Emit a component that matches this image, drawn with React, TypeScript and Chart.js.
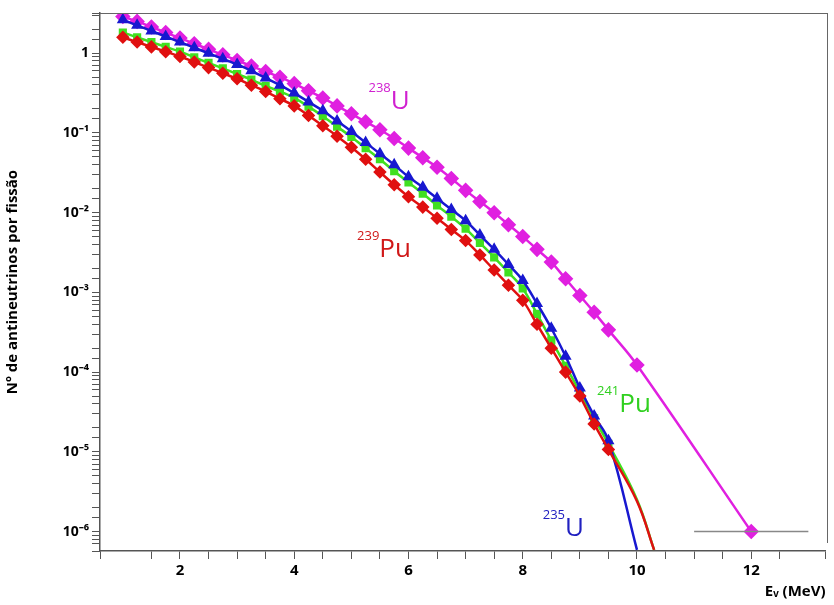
import { useEffect, useRef } from "react";
import { Chart, registerables } from "chart.js";

Chart.register(...registerables);

// energies (MeV) for the measured points
const energies = [1, 1.25, 1.5, 1.75, 2, 2.25, 2.5, 2.75, 3, 3.25, 3.5, 3.75, 4, 4.25, 4.5, 4.75, 5, 5.25, 5.5, 5.75, 6, 6.25, 6.5, 6.75, 7, 7.25, 7.5, 7.75, 8, 8.25, 8.5, 8.75, 9, 9.25, 9.5];

// log10 of antineutrinos per fission
const u238Log = [0.46, 0.4, 0.33, 0.26, 0.19, 0.12, 0.05, -0.02, -0.09, -0.16, -0.23, -0.3, -0.38, -0.47, -0.56, -0.66, -0.76, -0.86, -0.96, -1.07, -1.19, -1.31, -1.43, -1.57, -1.72, -1.86, -2.0, -2.15, -2.3, -2.46, -2.62, -2.83, -3.04, -3.25, -3.47];
const u238TailE = [10, 12];
const u238TailLog = [-3.91, -6.0];

const u235Log = [0.42, 0.35, 0.28, 0.21, 0.14, 0.07, 0, -0.07, -0.14, -0.22, -0.31, -0.4, -0.5, -0.61, -0.72, -0.85, -0.98, -1.12, -1.26, -1.4, -1.55, -1.68, -1.82, -1.96, -2.1, -2.28, -2.46, -2.65, -2.85, -3.14, -3.45, -3.8, -4.2, -4.55, -4.86];
const u235EndE = [10];
const u235EndLog = [-6.23];

const pu241Log = [0.26, 0.2, 0.14, 0.08, 0.02, -0.05, -0.12, -0.19, -0.26, -0.33, -0.41, -0.48, -0.56, -0.67, -0.79, -0.92, -1.05, -1.19, -1.33, -1.48, -1.62, -1.76, -1.91, -2.05, -2.2, -2.38, -2.56, -2.75, -2.95, -3.27, -3.6, -3.92, -4.25, -4.58, -4.9];
const pu241EndE = [10, 10.3];
const pu241EndLog = [-5.6, -6.23];

const pu239Log = [0.2, 0.14, 0.08, 0.02, -0.04, -0.11, -0.18, -0.25, -0.32, -0.4, -0.48, -0.57, -0.66, -0.78, -0.91, -1.04, -1.18, -1.33, -1.49, -1.65, -1.8, -1.93, -2.07, -2.21, -2.35, -2.53, -2.72, -2.91, -3.1, -3.4, -3.7, -4.0, -4.3, -4.65, -4.97];
const pu239EndE = [10, 10.3];
const pu239EndLog = [-5.62, -6.23];

const decadeLabels: Record<string, string> = {
  "1": "1", "0.1": "10⁻¹", "0.01": "10⁻²", "0.001": "10⁻³", "0.0001": "10⁻⁴", "0.00001": "10⁻⁵", "0.000001": "10⁻⁶",
};

const isoLabels = [
  { mass: "238", sym: "U", x: 5.3, y: -0.6, color: "#d020d0" },
  { mass: "239", sym: "Pu", x: 5.1, y: -2.45, color: "#d01818" },
  { mass: "241", sym: "Pu", x: 9.3, y: -4.4, color: "#30d020" },
  { mass: "235", sym: "U", x: 8.35, y: -5.95, color: "#2020c0" },
];

const pts = (xs: number[], ls: number[]) => xs.map((x, i) => ({ x, y: Math.pow(10, ls[i]) }));

const labelPlugin = {
  id: "isoLabels",
  afterDatasetsDraw(chart: any) {
    const { ctx, scales } = chart;
    ctx.save();
    ctx.textBaseline = "alphabetic";
    for (const l of isoLabels) {
      const px = scales.x.getPixelForValue(l.x);
      const py = scales.y.getPixelForValue(Math.pow(10, l.y));
      ctx.fillStyle = l.color;
      ctx.font = "13px 'Open Sans', sans-serif";
      ctx.fillText(l.mass, px, py - 9);
      const w = ctx.measureText(l.mass).width;
      ctx.font = "26px 'Open Sans', sans-serif";
      ctx.fillText(l.sym, px + w, py + 8);
    }
    // horizontal error bar of last 238U point
    ctx.strokeStyle = "#888";
    ctx.lineWidth = 1.5;
    const y12 = scales.y.getPixelForValue(1e-6);
    ctx.beginPath();
    ctx.moveTo(scales.x.getPixelForValue(11), y12);
    ctx.lineTo(scales.x.getPixelForValue(13), y12);
    ctx.stroke();
    ctx.restore();
  },
};

export default function App() {
  const canvasRef = useRef<HTMLCanvasElement>(null);

  useEffect(() => {
    if (!canvasRef.current) return;
    const mk = (label: string, color: string, style: string, main: { x: number; y: number }[], tail: { x: number; y: number }[], r = 5) => ({
      label,
      data: [...main, ...tail],
      borderColor: color,
      backgroundColor: color,
      borderWidth: 2.5,
      pointStyle: style,
      pointRadius: main.map(() => r).concat(tail.map(() => 0)),
      tension: 0.4,
    });
    const u238 = mk("238U", "#e020e0", "rectRot", pts(energies, u238Log), pts(u238TailE, u238TailLog), 6);
    (u238 as any).pointRadius = 6;

    const chart = new Chart(canvasRef.current, {
      type: "line",
      data: {
        datasets: [
          mk("239Pu", "#e01010", "rectRot", pts(energies, pu239Log), pts(pu239EndE, pu239EndLog)),
          mk("235U", "#1818d0", "triangle", pts(energies, u235Log), pts(u235EndE, u235EndLog), 4.5),
          mk("241Pu", "#40e020", "rect", pts(energies, pu241Log), pts(pu241EndE, pu241EndLog), 4),
          u238 as any,
        ],
      },
      options: {
        animation: false,
        responsive: false,
        layout: { padding: { top: 13, right: 6, bottom: 0, left: 0 } },
        plugins: { legend: { display: false }, tooltip: { enabled: false } },
        scales: {
          x: {
            type: "linear",
            min: 0.6,
            max: 13.3,
            ticks: {
              stepSize: 0.5,
              autoSkip: false,
              color: "#000",
              font: { size: 15, weight: "bold", family: "'Open Sans', sans-serif" },
              callback: (v: any) => (Number(v) % 2 === 0 ? String(v) : ""),
            },
            grid: { drawOnChartArea: false, color: "#555", tickLength: 8 },
            border: { color: "#555", width: 1.5 },
            title: {
              display: true,
              text: "Eᵥ (MeV)",
              align: "end",
              color: "#000",
              font: { size: 15, weight: "bold", family: "'Open Sans', sans-serif" },
              padding: { top: 0, bottom: 4 },
            },
          },
          y: {
            type: "logarithmic",
            min: 5.7e-7,
            max: 3.2,
            afterFit: (s: any) => { s.width = 100; },
            ticks: {
              autoSkip: false,
              color: "#000",
              font: { size: 14, weight: "bold", family: "'Open Sans', sans-serif" },
              callback: (v: any) => decadeLabels[String(v)] ?? "",
            },
            grid: { drawOnChartArea: false, color: "#555", tickLength: 8 },
            border: { color: "#555", width: 1.5 },
            title: {
              display: true,
              text: "Nº de antineutrinos por fissão",
              color: "#000",
              font: { size: 15, weight: "bold", family: "'Open Sans', sans-serif" },
            },
          },
        },
      },
      plugins: [labelPlugin],
    });
    return () => chart.destroy();
  }, []);

  return (
    <div style={{ position: "absolute", left: 0, top: 0, width: 834, height: 605, background: "#fff" }}>
      <div style={{ position: "absolute", left: 100, top: 13, width: 728, height: 530, borderTop: "1.5px solid #666", borderRight: "1.5px solid #666", boxSizing: "border-box", pointerEvents: "none" }} />
      <canvas ref={canvasRef} width={834} height={605} />
    </div>
  );
}
